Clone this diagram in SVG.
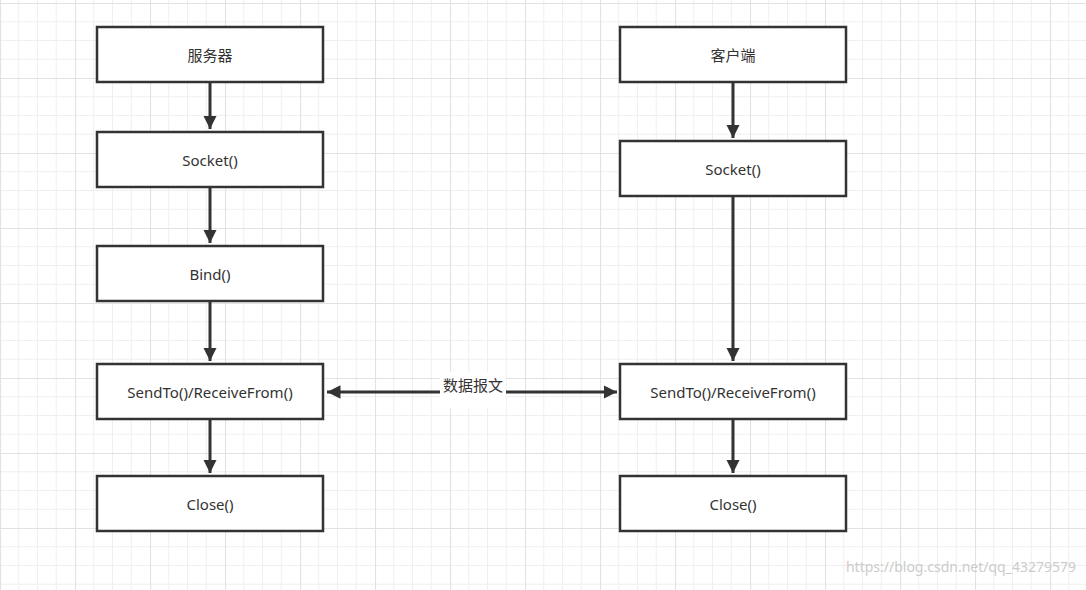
<svg xmlns="http://www.w3.org/2000/svg" width="1086" height="590" viewBox="0 0 1086 590">
<defs>
<pattern id="g" width="75" height="75" patternUnits="userSpaceOnUse" x="0" y="3">
<path d="M18.75 0V75M37.5 0V75M56.25 0V75M0 18.75H75M0 37.5H75M0 56.25H75" stroke="#efefef" stroke-width="1" fill="none"/>
<path d="M0.5 0V75M0 0.5H75" stroke="#e2e2e2" stroke-width="1.2" fill="none"/>
</pattern>
<marker id="a" viewBox="0 0 10 10" refX="10" refY="5" markerWidth="4.5" markerHeight="4.5" orient="auto-start-reverse" markerUnits="strokeWidth"><path d="M0 0L10 5L0 10z" fill="#333"/></marker>
</defs>
<style>
.b rect{fill:#fff;stroke:#333;stroke-width:2.5}
.b text{font-family:"Noto Sans","Noto Sans CJK SC",sans-serif;font-size:15px;fill:#333;text-anchor:middle;dominant-baseline:central}
.c path{stroke:#333;stroke-width:3;fill:none;marker-end:url(#a)}
</style>
<rect width="1086" height="590" fill="#fff"/>
<rect width="1086" height="590" fill="url(#g)"/>
<g class="c">
<path d="M210 82V129"/><path d="M210 187V243"/><path d="M210 301V361"/><path d="M210 419V473"/>
<path d="M733 82V138"/><path d="M733 196V361"/><path d="M733 419V473"/>
<path d="M440 392H327" /><path d="M506 392H617"/>
<path d="M440 392H506" stroke="none"/>
</g>
<g class="b">
<g id="s1"><rect x="97" y="27" width="226" height="55"/><text x="210" y="55">服务器</text></g>
<g id="s2"><rect x="97" y="132" width="226" height="55"/><text x="210" y="160">Socket()</text></g>
<g id="s3"><rect x="97" y="246" width="226" height="55"/><text x="210" y="274">Bind()</text></g>
<g id="s4"><rect x="97" y="364" width="226" height="55"/><text x="210" y="392">SendTo()/ReceiveFrom()</text></g>
<g id="s5"><rect x="97" y="476" width="226" height="55"/><text x="210" y="504">Close()</text></g>
<g id="c1"><rect x="620" y="27" width="226" height="55"/><text x="733" y="55">客户端</text></g>
<g id="c2"><rect x="620" y="141" width="226" height="55"/><text x="733" y="169">Socket()</text></g>
<g id="c3"><rect x="620" y="364" width="226" height="55"/><text x="733" y="392">SendTo()/ReceiveFrom()</text></g>
<g id="c4"><rect x="620" y="476" width="226" height="55"/><text x="733" y="504">Close()</text></g>
</g>
<g id="lbl"><rect x="440" y="372" width="66" height="36" fill="#fff"/><text x="473" y="384" font-family="Noto Sans CJK SC,sans-serif" font-size="15" fill="#333" text-anchor="middle" dominant-baseline="central">数据报文</text></g>
<text x="1076" y="572" font-family="Noto Sans,sans-serif" font-size="14" fill="#ccc" text-anchor="end">https://blog.csdn.net/qq_43279579</text>
</svg>
